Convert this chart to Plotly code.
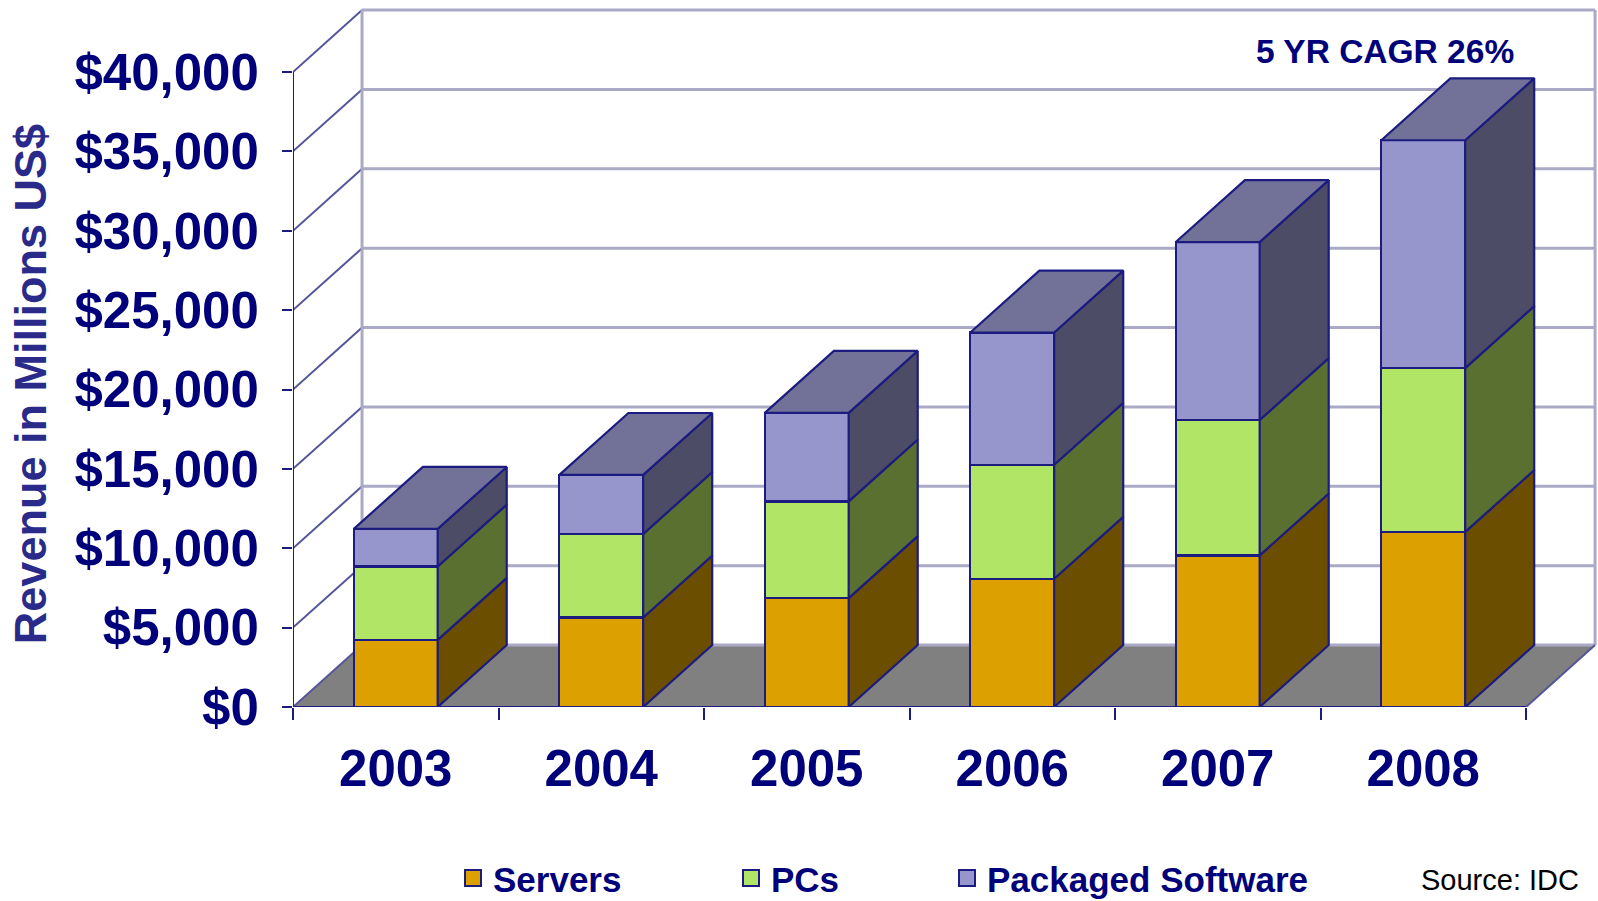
import plotly.graph_objects as go

years = [2003, 2004, 2005, 2006, 2007, 2008]
servers = [4230, 5640, 6860, 8080, 9550, 11030]
pcs = [4620, 5260, 6090, 7180, 8530, 10320]
software = [2370, 3720, 5580, 8330, 11210, 14350]
y_ticks = [0, 5000, 10000, 15000, 20000, 25000, 30000, 35000, 40000]
y_labels = ["$0", "$5,000", "$10,000", "$15,000", "$20,000", "$25,000", "$30,000", "$35,000", "$40,000"]

NAVY = "#00007a"
EDGE = "#1c1c80"
GRID = "#aaaac6"
DIAG = "#55559a"
FONT = "Liberation Sans"
DX, DY = 0.336, 3900
BAR_W = 0.408
X0, X1 = years[0] - 0.5, years[-1] + 0.5

W, H = 1598, 901
L, B = 293, 901 - 706.7
PW, PH = W - L, H - B
def px(v):
    return (v - L) / PW
def py(v):
    return (PH - v) / PH

series = [
    ("Servers", servers, "#dca000", "#6b4e00"),
    ("PCs", pcs, "#b0e566", "#5a7030"),
    ("Packaged Software", software, "#9696cc", "#4c4c66"),
]

fig = go.Figure()
tops = [0] * len(years)
for name, vals, col, side in series:
    fig.add_bar(x=years, y=vals, name=name, width=BAR_W, marker=dict(color=col, line=dict(color=EDGE, width=2.2)), showlegend=False)
    sx, sy = [], []
    for i, yr in enumerate(years):
        r = yr + BAR_W / 2
        b, t = tops[i], tops[i] + vals[i]
        sx += [r, r + DX, r + DX, r, r, None]
        sy += [b, b + DY, t + DY, t, b, None]
        tops[i] = t
    fig.add_scatter(x=sx, y=sy, mode="lines", fill="toself", fillcolor=side, line=dict(color=EDGE, width=2.2), hoverinfo="skip", showlegend=False)

tx, ty = [], []
for i, yr in enumerate(years):
    l, r = yr - BAR_W / 2, yr + BAR_W / 2
    t = tops[i]
    tx += [l, l + DX, r + DX, r, l, None]
    ty += [t, t + DY, t + DY, t, t, None]
fig.add_scatter(x=tx, y=ty, mode="lines", fill="toself", fillcolor="#727299", line=dict(color=EDGE, width=2.2), hoverinfo="skip", showlegend=False)

for k, (name, vals, col, side) in enumerate(series):
    fig.add_scatter(x=[None], y=[None], mode="markers", name=name,
                    marker=dict(symbol="square", size=16, color=col, line=dict(color=EDGE, width=2)),
                    legend="legend" if k == 0 else f"legend{k + 1}")

shapes = [dict(type="path", layer="below", line=dict(width=0), fillcolor="#808080",
               path=f"M{X0},0 L{X1},0 L{X1 + DX},{DY} L{X0 + DX},{DY} Z")]
for v in y_ticks:
    shapes.append(dict(type="line", layer="below", x0=X0 + DX, x1=X1 + DX, y0=v + DY, y1=v + DY, line=dict(color=GRID, width=3)))
    shapes.append(dict(type="line", layer="below", x0=X0, x1=X0 + DX, y0=v, y1=v + DY, line=dict(color=DIAG, width=2)))
for xv in (X0 + DX, X1 + DX):
    shapes.append(dict(type="line", layer="below", x0=xv, x1=xv, y0=DY, y1=y_ticks[-1] + DY, line=dict(color=GRID, width=3)))
shapes.append(dict(type="line", layer="below", x0=X1, x1=X1 + DX, y0=0, y1=DY, line=dict(color=DIAG, width=2)))
shapes.append(dict(type="line", layer="above", x0=X0, x1=X0, y0=0, y1=y_ticks[-1], line=dict(color=EDGE, width=2)))
shapes.append(dict(type="line", layer="above", x0=X0, x1=X1, y0=0, y1=0, line=dict(color=EDGE, width=2)))

legend_common = dict(orientation="h", yanchor="middle", y=py(878), xanchor="left", bgcolor="rgba(0,0,0,0)",
                     font=dict(family=FONT, size=35, color=NAVY, weight="bold"), itemwidth=30, borderwidth=0)

fig.update_layout(
    width=W, height=H, barmode="stack", showlegend=True,
    paper_bgcolor="white", plot_bgcolor="white",
    margin=dict(l=L, r=0, t=0, b=B, pad=0, autoexpand=False),
    shapes=shapes,
    xaxis=dict(range=[X0, X0 + PW / 205.5], tickmode="array", tickvals=years, ticktext=[str(y) for y in years],
               ticks="", showgrid=False, zeroline=False, showline=False, ticklabelstandoff=27,
               tickfont=dict(family=FONT, size=51, color=NAVY, weight="bold"),
               minor=dict(tickmode="array", tickvals=[y - 0.5 for y in years] + [X1], ticks="outside", ticklen=12, tickwidth=2, tickcolor=EDGE, showgrid=False)),
    yaxis=dict(range=[0, PH / 0.015868], tickmode="array", tickvals=y_ticks, ticktext=y_labels,
               ticks="outside", ticklen=10, tickwidth=2, tickcolor=EDGE, showgrid=False, zeroline=False, showline=False,
               ticklabelstandoff=13, tickfont=dict(family=FONT, size=51, color=NAVY, weight="bold")),
    legend=dict(legend_common, x=px(453)),
    legend2=dict(legend_common, x=px(731)),
    legend3=dict(legend_common, x=px(947)),
    annotations=[
        dict(text="5 YR CAGR 26%", xref="paper", yref="paper", x=px(1385), y=py(51),
             showarrow=False, xanchor="center", yanchor="middle", font=dict(family=FONT, size=33.5, color=NAVY, weight="bold")),
        dict(text="Source: IDC", xref="paper", yref="paper", x=px(1500), y=py(880),
             showarrow=False, xanchor="center", yanchor="middle", font=dict(family=FONT, size=29, color="black")),
        dict(text="Revenue in Millions US$", xref="paper", yref="paper", x=px(30), y=py(384), textangle=-90,
             showarrow=False, xanchor="center", yanchor="middle", font=dict(family=FONT, size=45, color="#2a2a8a", weight="bold")),
    ],
)
fig.write_html("out.html", default_width="1598px", default_height="901px", config=dict(displayModeBar=False),
               post_script="document.body.style.margin='0';document.documentElement.style.overflow='hidden';")
